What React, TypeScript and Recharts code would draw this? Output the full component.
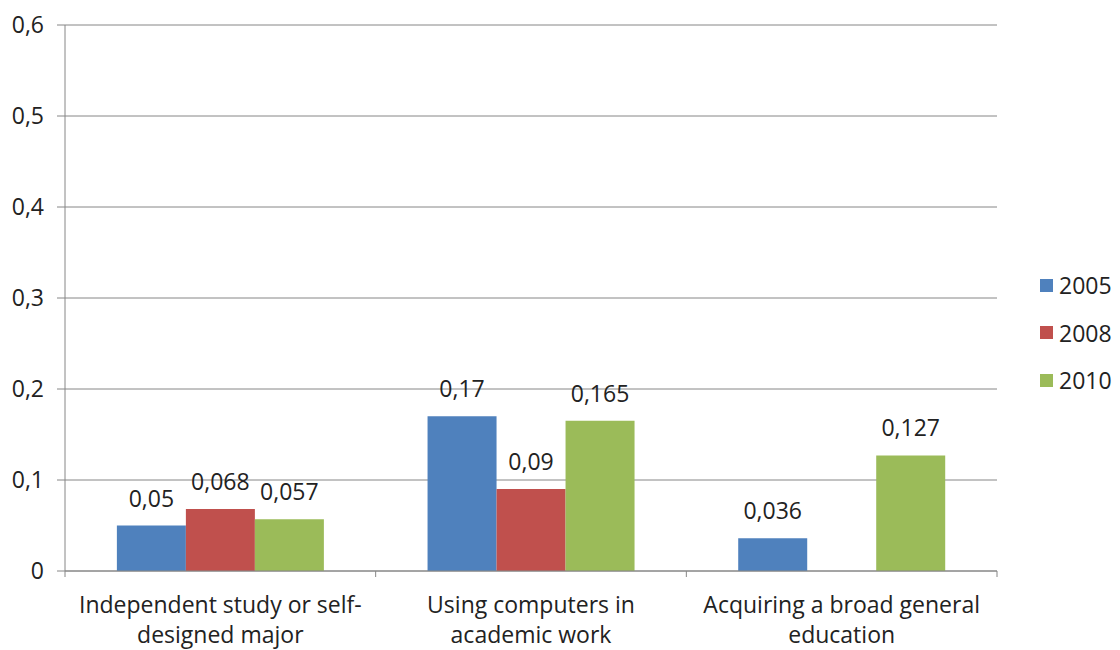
import { BarChart, Bar, XAxis, YAxis, CartesianGrid, LabelList } from "recharts";

const categories = [
  "Independent study or self-\ndesigned major",
  "Using computers in\nacademic work",
  "Acquiring a broad general\neducation",
];
const years = ["2005", "2008", "2010"];
const values2005 = [0.05, 0.17, 0.036];
const values2008 = [0.068, 0.09, null];
const values2010 = [0.057, 0.165, 0.127];
const yTicks = [0, 0.1, 0.2, 0.3, 0.4, 0.5, 0.6];

const colors = ["#4F81BD", "#C0504D", "#9BBB59"];
const FONT = "'Open Sans', sans-serif";
const FS = 23;
const W = 1120;
const H = 650;
const margin = { top: 25, right: 123, bottom: 0, left: 0 };
const Y_W = 65;
const X_H = 79;
const band = (W - margin.left - margin.right - Y_W) / categories.length;

const data = categories.map((name, i) => ({
  name,
  "2005": values2005[i],
  "2008": values2008[i],
  "2010": values2010[i],
}));

const fmt = (v: any) => (v == null ? "" : v === 0 ? "0" : String(v).replace(".", ","));

const CategoryTick = ({ x, y, payload, index }: any) => {
  const lines = String(payload.value).split("\n");
  const left = x - band / 2;
  return (
    <g>
      <line x1={left} x2={left} y1={y} y2={y + 6} stroke="#868686" />
      {index === categories.length - 1 && (
        <line x1={left + band} x2={left + band} y1={y} y2={y + 6} stroke="#868686" />
      )}
      <text x={x} y={y} textAnchor="middle" fontFamily={FONT} fontSize={FS} fill="#222">
        {lines.map((l, i) => (
          <tspan key={i} x={x} y={y + 42 + i * 30}>
            {l}
          </tspan>
        ))}
      </text>
    </g>
  );
};

export default function App() {
  return (
    <div
      style={{ position: "absolute", left: 0, top: 0, width: W, height: H, background: "#fff", overflow: "visible" }}
    >
      <BarChart
        width={W}
        height={H}
        data={data}
        margin={margin}
        barCategoryGap="16.7%"
        barGap={0}
        style={{ overflow: "visible" }}
      >
        <CartesianGrid vertical={false} stroke="#868686" />
        <XAxis
          dataKey="name"
          height={X_H}
          interval={0}
          tickLine={false}
          tickSize={0}
          tickMargin={0}
          stroke="#868686"
          tick={<CategoryTick />}
        />
        <YAxis
          width={Y_W}
          domain={[0, 0.6]}
          ticks={yTicks}
          tickSize={8}
          tickMargin={13}
          stroke="#868686"
          tickFormatter={fmt}
          tick={{ fontFamily: FONT, fontSize: FS, fill: "#222" }}
        />
        {years.map((yr, i) => (
          <Bar key={yr} dataKey={yr} fill={colors[i]} isAnimationActive={false}>
            <LabelList
              dataKey={yr}
              position="top"
              offset={19}
              formatter={fmt}
              style={{ fontFamily: FONT, fontSize: FS, fill: "#222" }}
            />
          </Bar>
        ))}
      </BarChart>
      <div style={{ position: "absolute", left: 1040, top: 270, fontFamily: FONT, fontSize: FS, color: "#222" }}>
        {years.map((yr, i) => (
          <div key={yr} style={{ display: "flex", alignItems: "center", height: 30, marginBottom: 17.5 }}>
            <span style={{ width: 13, height: 13, background: colors[i], display: "inline-block", marginRight: 6 }} />
            <span>{yr}</span>
          </div>
        ))}
      </div>
    </div>
  );
}
